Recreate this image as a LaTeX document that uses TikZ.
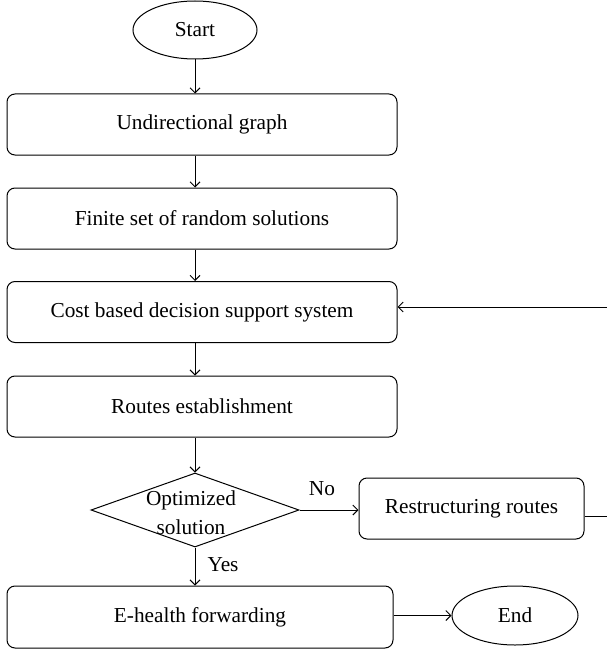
\documentclass[tikz,border=0pt]{standalone}
\usepackage{fontspec}
\setmainfont{Liberation Serif}
\usetikzlibrary{shapes.geometric,arrows.meta}
\tikzset{
  box/.style={draw, rounded corners=8pt, minimum width=390pt, minimum height=61pt, inner sep=0pt, line width=1pt},
  term/.style={draw, ellipse, minimum width=124pt, minimum height=58pt, inner sep=0pt, line width=1pt},
  dec/.style={draw, diamond, minimum width=208pt, minimum height=74pt, inner sep=0pt, aspect=2.8, line width=1pt, align=center},
  conn/.style={line width=1pt, -{Straight Barb[length=5pt,width=10pt]}},
  lbl/.style={inner sep=0pt},
}
\begin{document}
\begin{tikzpicture}[x=1pt, y=-1pt, font=\fontsize{21.3}{26}\selectfont]
\useasboundingbox (0,0) rectangle (607,650);
\clip (0,0) rectangle (607,650);
\node[term] (start) at (195,30) {Start};
\node[box] (b1) at (202,124.5) {Undirectional graph};
\node[box] (b2) at (202,218.5) {Finite set of random solutions};
\node[box] (b3) at (202,312) {Cost based decision support system};
\node[box] (b4) at (202,406.5) {Routes establishment};
\node[dec, minimum width=208pt, minimum height=74pt] (d) at (195,510) {};
\node[lbl] (dt1) at (191,500) {Optimized};
\node[lbl] (dt2) at (191,527) {solution};
\node[box, minimum width=225pt] (r) at (471.5,508.5) {Restructuring routes};
\node[box, minimum width=386pt, minimum height=62pt] (e) at (200,617) {E-health forwarding};
\node[term, minimum width=126pt, minimum height=59pt] (end) at (515,615.5) {End};
\node[lbl] (no) at (322,489) {No};
\node[lbl] (yes) at (223,565) {Yes};
\coordinate (fb1) at (640,516);
\coordinate (fb2) at (640,307);
\draw[conn] (start.south) -- (start.south |- b1.north);
\draw[conn] (start.south |- b1.south) -- (start.south |- b2.north);
\draw[conn] (start.south |- b2.south) -- (start.south |- b3.north);
\draw[conn] (start.south |- b3.south) -- (start.south |- b4.north);
\draw[conn] (start.south |- b4.south) -- (d.north);
\draw[conn] (d.south) -- (d.south |- e.north);
\draw[conn] (d.east) -- (d.east -| r.west);
\draw[conn] (e.east |- end.west) -- (end.west);
\draw[conn] (r.east |- fb1) -- (fb1) -- (fb2) -- (fb2 -| b3.east);
\end{tikzpicture}
\end{document}
